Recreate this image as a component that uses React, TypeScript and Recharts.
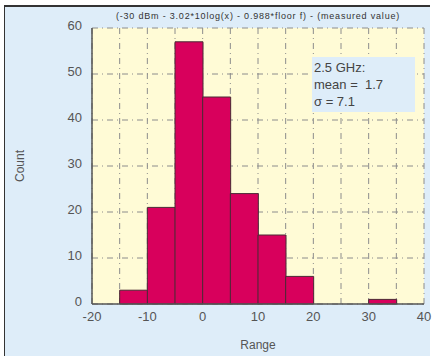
import React from 'react';
import { ComposedChart, Bar, XAxis, YAxis, CartesianGrid } from 'recharts';

const binCenters = [-17.5, -12.5, -7.5, -2.5, 2.5, 7.5, 12.5, 17.5, 22.5, 27.5, 32.5, 37.5];
const counts = [0, 3, 21, 57, 45, 24, 15, 6, 0, 0, 1, 0];
const xTicks = [-20, -15, -10, -5, 0, 5, 10, 15, 20, 25, 30, 35, 40];
const yTicks = [0, 10, 20, 30, 40, 50, 60];
const titleText = '(-30 dBm - 3.02*10log(x) - 0.988*floor f) - (measured value)';
const boxLines = ['2.5 GHz:', 'mean =  1.7', 'σ = 7.1'];

const data = binCenters.map((c, i) => ({ x: c, count: counts[i] }));

const font = 'Liberation Sans, Arial, sans-serif';

const YTick = (props: any) => {
  const { x, y, payload } = props;
  return (
    <text x={x} y={y - 3} textAnchor="end" dominantBaseline="central" fill="#555" fontSize={13} fontFamily={font}>
      {payload.value}
    </text>
  );
};

export default function App() {
  return (
    <div style={{ position: 'absolute', left: 0, top: 0, width: 432, height: 358, background: '#ffffff', fontFamily: font }}>
      <div style={{ position: 'absolute', left: 4, top: 5, width: 426, height: 351, background: '#deedf9', borderTop: '2px solid #333', borderLeft: '1px solid #333', boxSizing: 'border-box' }} />
      <div style={{ position: 'absolute', left: 0, top: 0 }}>
        <ComposedChart width={432} height={358} data={data} margin={{ top: 28, right: 8, bottom: 0, left: 0 }} barCategoryGap={0} barGap={0}>
          <CartesianGrid fill="#fffbd6" stroke="#8c8c8c" strokeDasharray="6 4 1 4" />
          <XAxis
            dataKey="x"
            type="number"
            domain={[-20, 40]}
            ticks={xTicks}
            interval={0}
            tickFormatter={(v: number) => (v % 10 === 0 ? String(v) : '')}
            height={54}
            tickSize={0}
            tickMargin={8}
            tick={{ fill: '#555', fontSize: 13, fontFamily: font }}
            axisLine={{ stroke: '#555', strokeWidth: 1.5 }}
            allowDataOverflow
            label={{ value: 'Range', position: 'insideBottom', offset: 9, fill: '#555', fontSize: 12, fontFamily: font }}
          />
          <XAxis xAxisId="top" orientation="top" dataKey="x" type="number" domain={[-20, 40]} height={0} tick={false} tickLine={false} axisLine={{ stroke: '#555', strokeWidth: 1.5 }} />
          <YAxis
            type="number"
            domain={[0, 60]}
            ticks={yTicks}
            width={92}
            tickSize={0}
            tickMargin={10}
            tick={<YTick />}
            axisLine={{ stroke: '#555', strokeWidth: 1.5 }}
            label={{ value: 'Count', angle: -90, position: 'insideLeft', offset: 20, fill: '#555', fontSize: 12, fontFamily: font, style: { textAnchor: 'middle' } }}
          />
          <YAxis yAxisId="right" orientation="right" width={0} tick={false} tickLine={false} axisLine={{ stroke: '#555', strokeWidth: 1.5 }} domain={[0, 60]} />
          <Bar dataKey="count" fill="#d8005c" stroke="#4a2a35" strokeWidth={1} isAnimationActive={false} />
        </ComposedChart>
      </div>
      <div style={{ position: 'absolute', left: 92, top: 11, width: 332, textAlign: 'center', fontSize: 9, letterSpacing: 0.8, color: '#333', whiteSpace: 'nowrap' }}>{titleText}</div>
      <div style={{ position: 'absolute', left: 312, top: 57, width: 103, height: 55, background: '#deedf9', color: '#444', fontSize: 13, lineHeight: '17px', padding: '2px 0 0 2px', boxSizing: 'border-box' }}>
        {boxLines.map((l, i) => (<div key={i} style={{ whiteSpace: 'pre' }}>{l}</div>))}
      </div>
    </div>
  );
}
